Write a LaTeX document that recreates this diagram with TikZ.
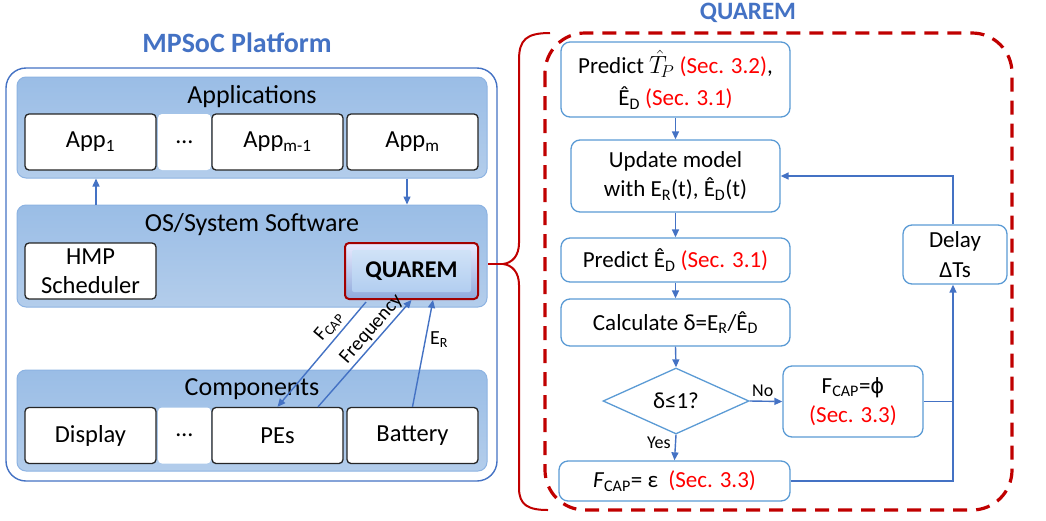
\documentclass[tikz,border=0pt]{standalone}
\usepackage{fontspec}
\setmainfont{Carlito}
\newfontfamily\dvfont{DejaVu Sans}
\usetikzlibrary{shapes.geometric,arrows.meta,calc}
\definecolor{tblue}{HTML}{4472C4}
\definecolor{fblue}{HTML}{5B9BD5}
\definecolor{dred}{HTML}{C00000}
\definecolor{pnlA}{HTML}{9ABDE6}
\definecolor{pnlB}{HTML}{B3CDEB}
\definecolor{pnlborder}{HTML}{8DB3E2}
\newcommand\sub[1]{\textsubscript{#1}}
\newcommand\fs[2]{\fontsize{#1}{#2}\selectfont}
\begin{document}
\begin{tikzpicture}[x=1pt,y=-1pt,
  panel/.style={draw=pnlborder, line width=1pt, rounded corners=9pt, top color=pnlA, bottom color=pnlB, minimum width=470pt, inner sep=0pt},
  cbox/.style={draw=black!85, line width=1.3pt, fill=white, rounded corners=4pt, minimum width=131pt, minimum height=56pt, font=\fs{24.5}{29}, inner sep=0pt, align=center},
  dotbox/.style={fill=white, rounded corners=4pt, minimum width=53pt, minimum height=56pt, font=\fs{24}{29}, inner sep=0pt},
  fbox/.style={draw=fblue, line width=1.3pt, fill=white, rounded corners=9pt, align=center, font=\fs{23}{29.5}, inner sep=0pt},
  arr/.style={draw=tblue, line width=1.4pt, -{Triangle[length=8pt,width=7pt]}},
  plainline/.style={draw=tblue, line width=1.4pt},
  title/.style={font=\bfseries\fs{25}{30}, text=tblue},
  plabel/.style={font=\fs{26}{30}},
  small/.style={font=\fs{18}{20}},
  albl/.style={font=\fs{20}{22}, inner sep=1pt}
]
\useasboundingbox (0,0) rectangle (1046,520);

% ---------- left: MPSoC platform ----------
\node[title, font=\bfseries\fs{28}{32}] (ttl1) at (237,43) {MPSoC Platform};
\node[draw=tblue, line width=1.4pt, rounded corners=20pt, minimum width=491pt, minimum height=413pt, fill=white] (platform) at (251.5,274.5) {};

\node[panel, minimum height=101pt] (apppanel) at (252,127.5) {};
\node[plabel] (applbl) at (252,97) {Applications};
\node[cbox] (app1) at (90.5,142) {App\sub{1}};
\node[dotbox] (dots1) at (184.5,142) {\dots};
\node[cbox] (appm1) at (277.5,142) {App\sub{m-1}};
\node[cbox] (appm) at (412.5,142) {App\sub{m}};

\node[panel, minimum height=102pt] (ospanel) at (252,256) {};
\node[plabel] (oslbl) at (252,225) {OS/System Software};
\node[cbox] (hmp) at (90.5,271) {HMP\\Scheduler};
% QUAREM bevel button
\node[draw=dred!85!black, line width=2pt, rounded corners=4pt, minimum width=133pt, minimum height=56pt, top color=blue!8!white, bottom color=tblue!60!white, inner sep=0pt] (qbox) at (411.5,271) {};
\node[rounded corners=2pt, minimum width=119pt, minimum height=42pt, top color={rgb,255:red,208;green,226;blue,247}, bottom color={rgb,255:red,178;green,206;blue,240}, inner sep=0pt] (qinner) at (qbox.center) {};
\node[font=\bfseries\fs{24}{28}] (qtext) at (qbox.center) {QUAREM};

\node[panel, minimum height=101pt] (comppanel) at (252,420.5) {};
\node[plabel] (complbl) at (252,389) {Components};
\node[cbox] (display) at (90.5,435.5) {Display};
\node[dotbox] (dots2) at (184.5,435.5) {\dots};
\node[cbox] (pes) at (277.5,435.5) {PEs};
\node[cbox] (battery) at (412.5,435.5) {Battery};

% arrows between layers
\draw[arr] ([xshift=-156pt]ospanel.north) -- ([xshift=-156pt]apppanel.south);
\draw[arr] ([xshift=155pt]apppanel.south) -- ([xshift=155pt]ospanel.north);

\draw[arr] ([xshift=-45.5pt,yshift=-2pt]qbox.south) -- (pes.north)
   node[pos=0.31, sloped, above=3pt, albl] (fcaplbl) {F\sub{CAP}};
\draw[arr] ([xshift=40.5pt]pes.north) -- (qbox.south)
   node[pos=0.66, sloped, above=1pt, albl] (freqlbl) {Frequency};
\draw[arr] (battery.north) -- ([xshift=21.5pt]qbox.south)
   node[pos=0.63, right=3pt, albl] (erlbl) {E\sub{R}};

% ---------- red brace ----------
\coordinate (btip) at (488,264);
\draw[dred, line width=2pt] (550,33) .. controls (526,33) and (519,40) .. (519,60)
   -- (519,243) .. controls (519,256) and (512,263) .. (503,264)
   .. controls (512,265) and (519,272) .. (519,285)
   -- (519,488) .. controls (519,505) and (528,510) .. (548,510);
\draw[dred, line width=2pt] (btip) -- (503,264);

% ---------- right: QUAREM flow ----------
\node[title] (ttl2) at (748,13) {QUAREM};
\draw[dred, line width=3.2pt, dash pattern=on 14pt off 9pt, rounded corners=40pt] (545,33) rectangle (1012,510);

\node[fbox, minimum width=229pt, minimum height=75pt, font=\fs{23}{32}] (b1) at (675.5,79.5)
  {Predict $\hat{T}_{\!P}$ {\color{red}(Sec. 3.2)},\\Ê\sub{D} {\color{red}(Sec. 3.1)}};
\node[fbox, minimum width=209pt, minimum height=72pt] (b2) at (675.5,176)
  {Update model\\with E\sub{R}(t), Ê\sub{D}(t)};
\node[fbox, minimum width=229pt, minimum height=44pt] (b3) at (675.5,260)
  {Predict Ê\sub{D} {\color{red}(Sec. 3.1)}};
\node[fbox, minimum width=229pt, minimum height=47pt] (b4) at (675.5,322.5)
  {Calculate δ=E\sub{R}/Ê\sub{D}};
\node[diamond, draw=fblue, line width=1.3pt, fill=white, aspect=2.2, minimum width=146pt, minimum height=66pt, inner sep=0pt, font=\fs{23}{28}] (dia) at (676,401) {δ≤1?};
\node[fbox, minimum width=140pt, minimum height=71pt] (b5) at (853,401.5)
  {F\sub{CAP}={\dvfont\fontsize{21}{24}\selectfont ϕ}\\{\color{red}(Sec. 3.3)}};
\node[fbox, minimum width=231pt, minimum height=40pt] (b6) at (674.5,481)
  {\textit{F}\sub{CAP}= ε~~{\color{red}(Sec. 3.3)}};
\node[fbox, minimum width=104pt, minimum height=59pt] (delay) at (955,254.5)
  {Delay\\ΔTs};

\draw[arr] (b1.south) -- (b2.north);
\draw[arr] (b2.south) -- (b3.north);
\draw[arr] (b3.south) -- (b4.north);
\draw[arr] (b4.south) -- (dia.north);
\draw[arr] (dia.south) -- (b6.north) node[pos=0.3, left=1pt, small] (yes) {Yes};
\draw[arr] (dia.east) -- (b5.west) node[pos=0.4, above=1pt, small] (no) {No};
\coordinate (j5) at ([xshift=-2pt]delay.south |- b5.east);
\coordinate (j6) at ([xshift=-2pt]delay.south |- b6.east);
\draw[plainline] (b5.east) -- (j5);
\draw[arr] (b6.east) -- (j6) -- ([xshift=-2pt]delay.south);
\draw[arr] ([xshift=-2pt]delay.north) -- ([xshift=-2pt]delay.north |- b2.east) -- (b2.east);
\end{tikzpicture}
\end{document}
